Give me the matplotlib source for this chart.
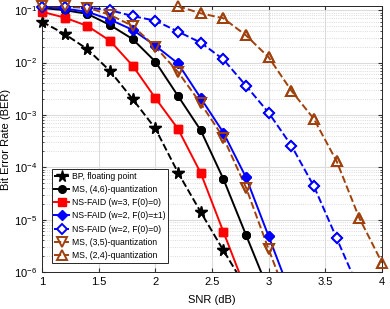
import numpy as np
import matplotlib
matplotlib.use("Agg")
import matplotlib.pyplot as plt
from matplotlib.ticker import LogLocator, NullFormatter, FixedLocator

plt.rcParams['font.family'] = ['Liberation Sans', 'DejaVu Sans']
plt.rcParams['mathtext.fontset'] = 'custom'
plt.rcParams['mathtext.rm'] = 'Liberation Sans'

snr_bp = [1.0, 1.2, 1.4, 1.6, 1.8, 2.0, 2.2, 2.4, 2.6, 2.8]
ber_bp = [0.060, 0.035, 0.018, 0.0069, 0.0020, 5.5e-4, 7.9e-5, 1.4e-5, 2.6e-6, 5.0e-7]

snr_ms46 = [1.0, 1.2, 1.4, 1.6, 1.8, 2.0, 2.2, 2.4, 2.6, 2.8, 3.0]
ber_ms46 = [0.110, 0.100, 0.085, 0.052, 0.028, 0.0104, 0.0023, 5.1e-4, 6.0e-5, 5.1e-6, 4.4e-7]

snr_w3 = [1.0, 1.2, 1.4, 1.6, 1.8, 2.0, 2.2, 2.4, 2.6, 2.8]
ber_w3 = [0.093, 0.072, 0.050, 0.026, 0.0087, 0.0021, 5.4e-4, 7.8e-5, 5.9e-6, 4.5e-7]

snr_w2pm = [1.0, 1.2, 1.4, 1.6, 1.8, 2.0, 2.2, 2.4, 2.6, 2.8, 3.0, 3.2]
ber_w2pm = [0.116, 0.107, 0.093, 0.066, 0.042, 0.021, 0.0096, 0.0021, 4.6e-4, 6.4e-5, 4.8e-6, 3.5e-7]

snr_w20 = [1.0, 1.2, 1.4, 1.6, 1.8, 2.0, 2.2, 2.4, 2.6, 2.8, 3.0, 3.2, 3.4, 3.6, 3.8]
ber_w20 = [0.117, 0.115, 0.112, 0.100, 0.077, 0.063, 0.039, 0.024, 0.0115, 0.0036, 0.0011, 2.6e-4, 4.3e-5, 4.4e-6, 4.5e-7]

snr_ms35 = [1.0, 1.2, 1.4, 1.6, 1.8, 2.0, 2.2, 2.4, 2.6, 2.8, 3.0, 3.2]
ber_ms35 = [0.118, 0.118, 0.112, 0.081, 0.050, 0.020, 0.0066, 0.00166, 3.7e-4, 4.1e-5, 2.7e-6, 2.0e-7]

snr_ms24 = [2.2, 2.4, 2.6, 2.8, 3.0, 3.2, 3.4, 3.6, 3.8, 4.0]
ber_ms24 = [0.119, 0.087, 0.070, 0.033, 0.0126, 0.0029, 8.3e-4, 1.3e-4, 1.07e-5, 1.5e-6]

labels = ['BP, floating point', 'MS, (4,6)-quantization', 'NS-FAID (w=3, F(0)=0)',
          'NS-FAID (w=2, F(0)=\u00b11)', 'NS-FAID (w=2, F(0)=0)',
          'MS, (3,5)-quantization', 'MS, (2,4)-quantization']

xticks = [1, 1.5, 2, 2.5, 3, 3.5, 4]
xticklabels = ['1', '1.5', '2', '2.5', '3', '3.5', '4']
ylim = (1e-6, 0.12)

brown = '#A0410D'
fig = plt.figure(figsize=(3.9, 3.09), dpi=100)
ax = fig.add_axes([42/390, 1-272/309, 340/390, 266/309])

lw = 1.4
series = [
    (snr_bp, ber_bp, dict(ls='--', color='k', marker='*', ms=8.5)),
    (snr_ms46, ber_ms46, dict(ls='-', color='k', marker='o', ms=5.5)),
    (snr_w3, ber_w3, dict(ls='-', color='red', marker='s', ms=5.5)),
    (snr_w2pm, ber_w2pm, dict(ls='-', color='blue', marker='D', ms=5.5)),
    (snr_w20, ber_w20, dict(ls='--', color='blue', marker='D', ms=5.5, mfc='white', mew=1.4)),
    (snr_ms35, ber_ms35, dict(ls='--', color=brown, marker='v', ms=6.5, mfc='none', mew=1.4)),
    (snr_ms24, ber_ms24, dict(ls='--', color=brown, marker='^', ms=6.5, mfc='none', mew=1.4)),
]
for (xs, ys, st), lab in zip(series, labels):
    ax.plot(xs, ys, lw=lw, label=lab, **st)
    # markers that lie within the range are drawn unclipped, as MATLAB does
    pts = [(x, y) for x, y in zip(xs, ys) if ylim[0] <= y <= ylim[1]]
    mst = {k: v for k, v in st.items() if k != 'ls'}
    ax.plot([p[0] for p in pts], [p[1] for p in pts], ls='none', clip_on=False, zorder=3, **mst)

ax.set_yscale('log')
ax.set_xlim(1, 4)
ax.set_ylim(*ylim)
ax.set_xticks(xticks)
ax.set_xticklabels(xticklabels)
ax.yaxis.set_major_locator(FixedLocator([1e-6, 1e-5, 1e-4, 1e-3, 1e-2, 1e-1]))
ax.yaxis.set_minor_locator(LogLocator(base=10, subs=np.arange(2, 10)))
ax.yaxis.set_minor_formatter(NullFormatter())

ax.grid(True, which='major', color='#dcdcdc', lw=0.8, ls='-')
ax.grid(True, which='minor', axis='y', color='#cfcfcf', lw=0.6, ls=':')
ax.set_axisbelow(True)
ax.tick_params(which='both', direction='in', top=True, right=True, labelsize=8, color='#333333')
ax.tick_params(which='major', length=3)
ax.tick_params(which='minor', length=1.5)
for s in ax.spines.values():
    s.set_color('#262626')
    s.set_linewidth(0.7)

ax.set_xlabel('SNR (dB)', fontsize=8, labelpad=6)
ax.set_ylabel('Bit Error Rate (BER)', fontsize=8, labelpad=2)

leg = ax.legend(loc='lower left', bbox_to_anchor=(0.029, 0.034), borderaxespad=0,
                fontsize=6.2, handlelength=1.7, handletextpad=0.35, labelspacing=0.5,
                borderpad=0.3, fancybox=False, framealpha=1, edgecolor='#262626')
leg.set_zorder(10)
leg.get_frame().set_linewidth(0.7)

fig.savefig('out.png', dpi=100)
